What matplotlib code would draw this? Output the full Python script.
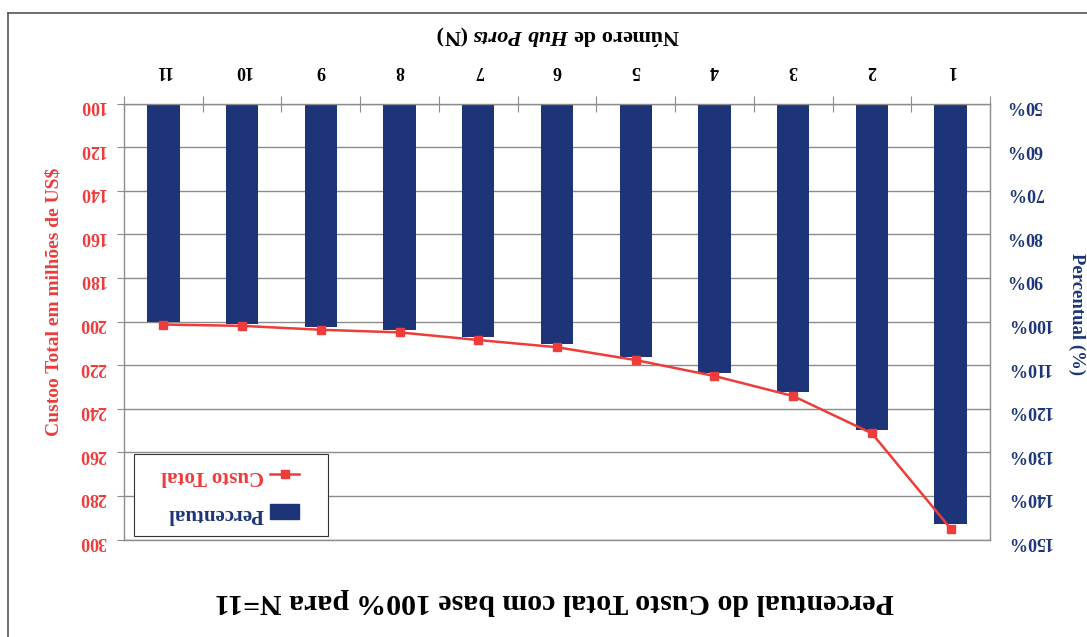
import matplotlib
matplotlib.use("Agg")
import matplotlib.pyplot as plt
import numpy as np
from matplotlib.lines import Line2D
from matplotlib.patches import Patch, Rectangle

plt.rcParams['font.family'] = ['Liberation Serif', 'DejaVu Serif']
plt.rcParams['font.weight'] = 'bold'
plt.rcParams['mathtext.fontset'] = 'custom'
plt.rcParams['mathtext.rm'] = 'Liberation Serif:bold'
plt.rcParams['mathtext.it'] = 'Liberation Serif:italic:bold'

# dados
hubs = ['1', '2', '3', '4', '5', '6', '7', '8', '9', '10', '11']
percentual = [146.4, 124.8, 116.2, 111.8, 108.2, 105.2, 103.6, 101.9, 101.2, 100.6, 100.1]
custo_total = [295.0, 251.3, 234.2, 225.0, 217.7, 211.8, 208.5, 205.0, 203.8, 202.0, 201.4]

AZUL = '#1d3578'
VERMELHO = '#ee3b3b'
GRADE = '#8c8c8c'

W, H = 1087, 637
fig = plt.figure(figsize=(W / 100, H / 100), dpi=100)

# area do grafico em pixels (esq, topo, dir, baixo)
x0, y0, x1, y1 = 124, 103.5, 990, 539.5
ax = fig.add_axes([x0 / W, 1 - y1 / H, (x1 - x0) / W, (y1 - y0) / H])

x = np.arange(len(hubs))
ax.bar(x, np.array(percentual) - 50, bottom=50, width=0.41, color=AZUL, zorder=2)

ax2 = ax.twinx()
ax2.plot(x, custo_total, color=VERMELHO, lw=1.8, marker='s', ms=6, zorder=3)

# grafico de cabeca para baixo
ax.set_xlim(len(hubs) - 0.5, -0.5)
ax.set_ylim(150, 50)
ax.set_yticks(np.arange(50, 151, 10))
ax.set_yticklabels([f'{v}%' for v in range(50, 151, 10)], rotation=180,
                   color=AZUL, fontsize=13, fontweight='bold')
ax.yaxis.tick_right()
ax.tick_params(axis='y', length=0, pad=12)
ax.grid(axis='y', color=GRADE, lw=1, zorder=0)

ax.xaxis.tick_top()
ax.set_xticks(np.arange(-0.5, len(hubs)), minor=False)
ax.set_xticklabels([])
ax.set_xticks(x, minor=True)
ax.set_xticklabels(hubs, minor=True, rotation=180, fontsize=13, fontweight='bold')
ax.tick_params(axis='x', which='major', direction='inout', length=12, color=GRADE)
ax.tick_params(axis='x', which='minor', length=0, pad=18)

for s in ax.spines.values():
    s.set_color(GRADE)
    s.set_linewidth(1)

ax2.set_ylim(300, 100)
ax2.set_yticks(np.arange(100, 301, 20))
ax2.set_yticklabels([str(v) for v in range(100, 301, 20)], rotation=180,
                    color=VERMELHO, fontsize=13, fontweight='bold')
ax2.yaxis.tick_left()
ax2.tick_params(axis='y', length=5, color=GRADE, pad=8)
for s in ax2.spines.values():
    s.set_visible(False)

# titulos dos eixos
fig.text(558 / W, 1 - 35 / H, r'Número de $\mathit{Hub\ Ports}$ (N)', rotation=180,
         ha='center', va='center', fontsize=16, fontweight='bold')
fig.text(554 / W, 1 - 602 / H, 'Percentual do Custo Total com base 100% para N=11',
         rotation=180, ha='center', va='center', fontsize=21.5, fontweight='bold')
fig.text(54 / W, 1 - 302 / H, 'Custoo Total em milhões de US$', rotation=90,
         ha='center', va='center', fontsize=14, fontweight='bold', color=VERMELHO)
fig.text(1077 / W, 1 - 314 / H, 'Percentual (%)', rotation=270,
         ha='center', va='center', fontsize=13.5, fontweight='bold', color=AZUL)

# legenda: caixa desenhada a parte
lx0, ly0, lx1, ly1 = 134, 454, 328, 536
fig.add_artist(Rectangle((lx0 / W, 1 - ly1 / H), (lx1 - lx0) / W, (ly1 - ly0) / H,
                         transform=fig.transFigure, facecolor='white',
                         edgecolor='#333333', lw=0.8, zorder=4))
handles = [Line2D([], [], color=VERMELHO, lw=1.8, marker='s', ms=6),
           Patch(color=AZUL)]
leg = fig.legend(handles, ['Custo Total', 'Percentual'], loc='center',
                 bbox_to_anchor=(230 / W, 1 - 495 / H), markerfirst=False,
                 fontsize=15, frameon=False, labelspacing=0.85, handlelength=1.4,
                 handletextpad=0.3, borderpad=0)
leg.set_zorder(5)
for t, c in zip(leg.get_texts(), [VERMELHO, AZUL]):
    t.set_rotation(180)
    t.set_color(c)
    t.set_fontweight('bold')

# moldura externa
fig.add_artist(Line2D([8 / W, 1], [1 - 13 / H, 1 - 13 / H], color='#555555', lw=1.2))
fig.add_artist(Line2D([8 / W, 8 / W], [0, 1 - 13 / H], color='#555555', lw=1.2))

fig.savefig('out.png', dpi=100, facecolor='white')
